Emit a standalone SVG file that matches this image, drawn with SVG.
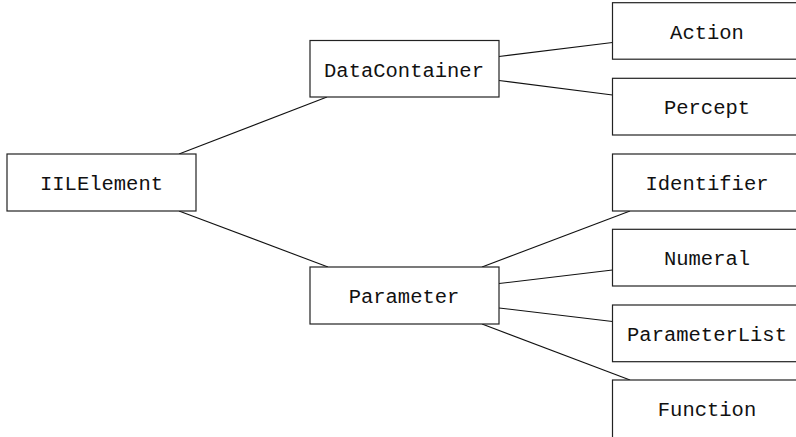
<svg xmlns="http://www.w3.org/2000/svg" width="796" height="437" viewBox="0 0 796 437">
  <style>
    .box rect { fill: #fff; stroke: #222; stroke-width: 1.2; }
    .box text { font-family: "Liberation Mono", "DejaVu Sans Mono", monospace; font-size: 20.5px; fill: #111; text-anchor: middle; }
    #edges line { stroke: #111; stroke-width: 1.1; }
  </style>
  <rect width="796" height="437" fill="#fff"/>

  <g id="edges">
    <line x1="179" y1="154" x2="327" y2="97"/>
    <line x1="179" y1="211" x2="328" y2="267"/>
    <line x1="499" y1="56.5" x2="612.5" y2="42.5"/>
    <line x1="499" y1="80.5" x2="612.5" y2="95"/>
    <line x1="482" y1="267" x2="630" y2="211"/>
    <line x1="499" y1="283.5" x2="612.5" y2="270"/>
    <line x1="499" y1="308" x2="612.5" y2="321.5"/>
    <line x1="482" y1="324" x2="630" y2="380"/>
  </g>

  <g id="IILElement" class="box">
    <rect x="7" y="154" width="189" height="57"/>
    <text x="101.5" y="190">IILElement</text>
  </g>
  <g id="DataContainer" class="box">
    <rect x="310" y="40.5" width="189" height="56.5"/>
    <text x="404" y="76.5">DataContainer</text>
  </g>
  <g id="Parameter" class="box">
    <rect x="310" y="267" width="189" height="57"/>
    <text x="404" y="303">Parameter</text>
  </g>
  <g id="Action" class="box">
    <rect x="612.5" y="2.7" width="189" height="56.5"/>
    <text x="707" y="38.5">Action</text>
  </g>
  <g id="Percept" class="box">
    <rect x="612.5" y="78.3" width="189" height="56.7"/>
    <text x="707" y="114">Percept</text>
  </g>
  <g id="Identifier" class="box">
    <rect x="612.5" y="154" width="189" height="57"/>
    <text x="707" y="190">Identifier</text>
  </g>
  <g id="Numeral" class="box">
    <rect x="612.5" y="229.3" width="189" height="56.7"/>
    <text x="707" y="265.3">Numeral</text>
  </g>
  <g id="ParameterList" class="box">
    <rect x="612.5" y="305" width="189" height="56.7"/>
    <text x="707" y="341">ParameterList</text>
  </g>
  <g id="Function" class="box">
    <rect x="612.5" y="380" width="189" height="62"/>
    <text x="707" y="416">Function</text>
  </g>
</svg>
